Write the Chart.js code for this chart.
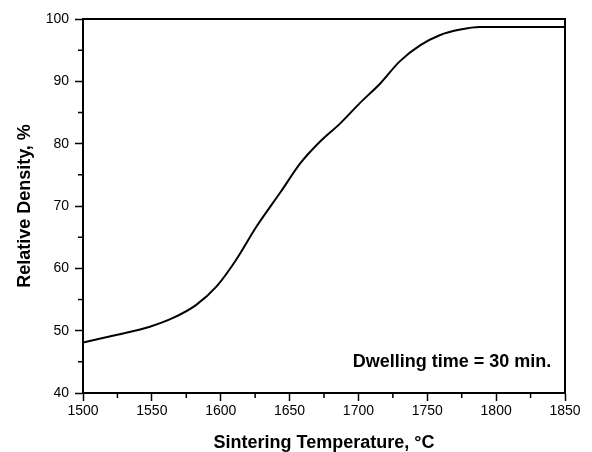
<!DOCTYPE html>
<html>
<head>
<meta charset="utf-8">
<script src="https://cdn.jsdelivr.net/npm/chart.js@4"></script>
<style>
  html, body { margin: 0; padding: 0; background: #fff; }
  #wrap { width: 592px; height: 452px; }
</style>
</head>
<body>
<div id="wrap"><canvas id="densityChart"></canvas></div>
<script>
// Sintering temperature (°C) vs relative density (%)
const temperatures = [1500, 1524, 1548, 1565, 1582, 1597, 1611, 1626, 1644, 1658, 1672,
  1687, 1701, 1716, 1730, 1745, 1759, 1774, 1788, 1850];
const densities = [48.1, 49.3, 50.6, 52.0, 54.1, 57.1, 61.3, 66.7, 72.4, 76.9, 80.3,
  83.3, 86.5, 89.7, 93.2, 95.8, 97.4, 98.3, 98.7, 98.7];
const xTicks = [1500, 1550, 1600, 1650, 1700, 1750, 1800, 1850];
const yTicks = [40, 50, 60, 70, 80, 90, 100];
const note = 'Dwelling time = 30 min.';

const FONT = "'Liberation Sans', Arial, Helvetica, sans-serif";

// Frame, minor ticks and the note
const framePlugin = {
  id: 'frame',
  afterDraw(chart) {
    const { ctx, chartArea: a, scales } = chart;
    ctx.save();
    ctx.strokeStyle = '#000';
    ctx.lineWidth = 2;
    ctx.beginPath();
    ctx.moveTo(a.left, a.top);
    ctx.lineTo(a.right, a.top);
    ctx.lineTo(a.right, a.bottom);
    ctx.stroke();

    // minor ticks
    ctx.lineWidth = 1.5;
    ctx.beginPath();
    for (let i = 0; i < xTicks.length - 1; i++) {
      const px = scales.x.getPixelForValue((xTicks[i] + xTicks[i + 1]) / 2);
      ctx.moveTo(px, a.bottom);
      ctx.lineTo(px, a.bottom + 5);
    }
    for (let i = 0; i < yTicks.length - 1; i++) {
      const py = scales.y.getPixelForValue((yTicks[i] + yTicks[i + 1]) / 2);
      ctx.moveTo(a.left, py);
      ctx.lineTo(a.left - 5, py);
    }
    ctx.stroke();

    ctx.fillStyle = '#000';
    ctx.font = 'bold 18px ' + FONT;
    ctx.textAlign = 'right';
    ctx.textBaseline = 'middle';
    ctx.fillText(note, scales.x.getPixelForValue(1840), scales.y.getPixelForValue(45));
    ctx.restore();
  }
};

document.addEventListener('DOMContentLoaded', function() {
  const ctx = document.getElementById('densityChart');
  new Chart(ctx, {
    type: 'line',
    data: {
      datasets: [{
        data: temperatures.map((t, i) => ({ x: t, y: densities[i] })),
        borderColor: '#000',
        borderWidth: 2,
        pointRadius: 0,
        cubicInterpolationMode: 'monotone',
        fill: false
      }]
    },
    options: {
      responsive: true,
      maintainAspectRatio: false,
      animation: false,
      layout: { padding: { left: 0, top: 19, right: 27, bottom: 0 } },
      plugins: { legend: { display: false }, tooltip: { enabled: false } },
      scales: {
        x: {
          type: 'linear',
          min: 1500,
          max: 1850,
          afterFit: s => { s.height = 59; },
          afterBuildTicks: s => { s.ticks = xTicks.map(v => ({ value: v })); },
          grid: { drawOnChartArea: false, tickLength: 8, tickWidth: 1.5, tickColor: '#000' },
          border: { color: '#000', width: 2 },
          ticks: { color: '#000', font: { family: FONT, size: 14 }, padding: 2, maxRotation: 0,
            callback: v => String(v) },
          title: {
            display: true,
            text: 'Sintering Temperature, °C',
            color: '#000',
            font: { family: FONT, size: 18, weight: 'bold', lineHeight: 1 },
            padding: { top: 0, bottom: 0 }
          }
        },
        y: {
          min: 40,
          max: 100,
          afterFit: s => { s.width = 83; },
          afterBuildTicks: s => { s.ticks = yTicks.map(v => ({ value: v })); },
          grid: { drawOnChartArea: false, tickLength: 8, tickWidth: 1.5, tickColor: '#000' },
          border: { color: '#000', width: 2 },
          ticks: { color: '#000', font: { family: FONT, size: 14 }, padding: 6,
            callback: v => String(v) },
          title: {
            display: true,
            text: 'Relative Density, %',
            color: '#000',
            font: { family: FONT, size: 18, weight: 'bold' },
            padding: { top: 14, bottom: 0 }
          }
        }
      }
    },
    plugins: [framePlugin]
  });
});
</script>
</body>
</html>
